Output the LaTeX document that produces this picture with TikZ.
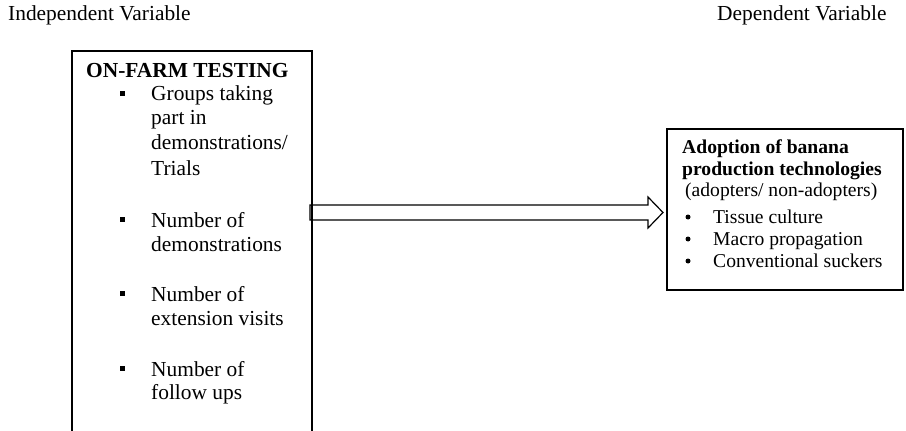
\documentclass[tikz,border=0pt]{standalone}
\usepackage{fontspec}
\setmainfont{Liberation Serif}
\begin{document}
\begin{tikzpicture}[x=1pt,y=-1pt,
  box/.style={draw,line width=1.2pt,inner sep=0pt},
  lt/.style={anchor=base west,inner sep=0pt,font=\fontsize{21.4}{24}\selectfont},
  rt/.style={anchor=base west,inner sep=0pt,font=\fontsize{19.6}{22}\selectfont},
  sq/.style={fill=black,minimum size=5pt,inner sep=0pt},
  dot/.style={circle,fill=black,minimum size=5pt,inner sep=0pt}]
\useasboundingbox (0,0) rectangle (906,431);
\clip (0,0) rectangle (906,431);
% boxes
\draw[box] (72,51) rectangle (312,445);
\coordinate (lboxE) at (312,212.5);
\draw[box] (667,129) rectangle (903,290);
\coordinate (rboxW) at (667,212.5);
% headers
\node[lt] (iv) at (8,20) {Independent Variable};
\node[lt] (dv) at (717,20) {Dependent Variable};
% left box text
\node[lt,font=\fontsize{21.4}{24}\selectfont\bfseries] (oft) at (86,77) {ON-FARM TESTING};
\node[sq] (b1) at (122,93) {};
\node[lt] (t1a) at (151,100) {Groups taking};
\node[lt] (t1b) at (151,124) {part in};
\node[lt] (t1c) at (151,149) {demonstrations/};
\node[lt] (t1d) at (151,175) {Trials};
\node[sq] (b2) at (122,219) {};
\node[lt] (t2a) at (151,227) {Number of};
\node[lt] (t2b) at (151,251) {demonstrations};
\node[sq] (b3) at (122,293) {};
\node[lt] (t3a) at (151,301) {Number of};
\node[lt] (t3b) at (151,325) {extension visits};
\node[sq] (b4) at (122,368) {};
\node[lt] (t4a) at (151,376) {Number of};
\node[lt] (t4b) at (151,399) {follow ups};
% right box text
\node[rt,font=\fontsize{19.6}{22}\selectfont\bfseries] (r1) at (682,153) {Adoption of banana};
\node[rt,font=\fontsize{19.6}{22}\selectfont\bfseries] (r2) at (682,175) {production technologies};
\node[rt] (r3) at (685,196) {(adopters/ non-adopters)};
\node[dot] (d1) at (688,217) {};
\node[rt] (r4) at (713,223) {Tissue culture};
\node[dot] (d2) at (688,239) {};
\node[rt] (r5) at (713,245) {Macro propagation};
\node[dot] (d3) at (688,261) {};
\node[rt] (r6) at (713,267) {Conventional suckers};
% block arrow
\draw[line width=1.2pt,line join=miter]
  ([xshift=-2pt,yshift=-7.5pt]lboxE) -- ([xshift=-19pt,yshift=-7.5pt]rboxW)
  -- ([xshift=-19pt,yshift=-15.5pt]rboxW) -- ([xshift=-4pt]rboxW)
  -- ([xshift=-19pt,yshift=15.5pt]rboxW) -- ([xshift=-19pt,yshift=7.5pt]rboxW)
  -- ([xshift=-2pt,yshift=7.5pt]lboxE) -- cycle;
\end{tikzpicture}
\end{document}
